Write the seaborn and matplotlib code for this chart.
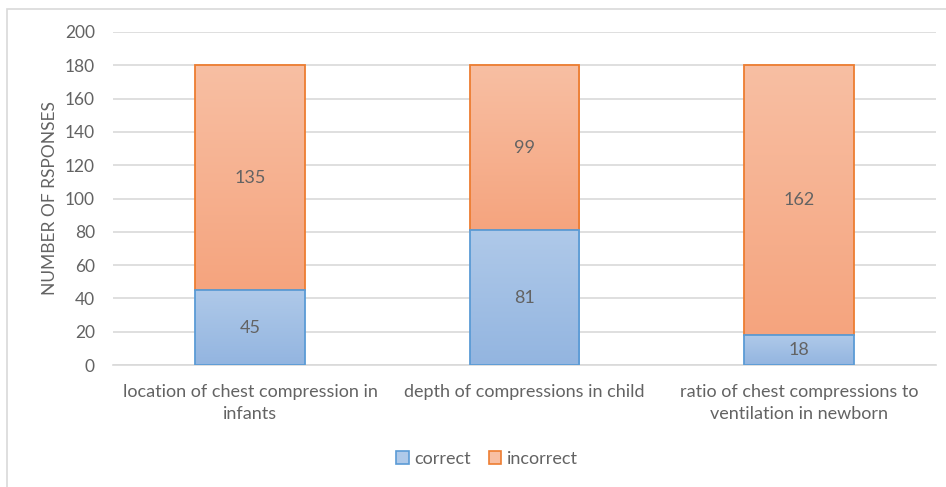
import numpy as np
import pandas as pd
import matplotlib
matplotlib.use("Agg")
import matplotlib.pyplot as plt
import seaborn as sns
from matplotlib.patches import Rectangle
from matplotlib.colors import LinearSegmentedColormap

categories = [
    "location of chest compression in\ninfants",
    "depth of compressions in child",
    "ratio of chest compressions to\nventilation in newborn",
]
correct = [45, 81, 18]
incorrect = [135, 99, 162]
series_names = ["correct", "incorrect"]
y_ticks = [0, 20, 40, 60, 80, 100, 120, 140, 160, 180, 200]

text_grey = "#636363"
grid_grey = "#d9d9d9"
blue_edge = "#5b9bd5"
orange_edge = "#ed7d31"
blue_grad = ("#afc9e9", "#93b5e0")
orange_grad = ("#f8bfa3", "#f5a47e")

sns.set_theme(style="white")
plt.rcParams["font.family"] = ["Lato", "DejaVu Sans"]

df = pd.DataFrame({
    "category": categories,
    "correct": correct,
    "incorrect": incorrect,
})
df["total"] = df["correct"] + df["incorrect"]

fig = plt.figure(figsize=(9.46, 4.87), dpi=100)
ax = fig.add_axes([113 / 946, 1 - 365 / 487, (936 - 113) / 946, (365 - 32) / 487])

# outer chart border (top and left edges visible)
fig.add_artist(Rectangle((7 / 946, -0.1), 1.2, 1 - 9 / 487 + 0.1,
                         transform=fig.transFigure, fill=False,
                         edgecolor="#d9d9d9", linewidth=1.2))

sns.barplot(data=df, x="category", y="total", color=orange_grad[1],
            width=0.40, ax=ax, zorder=2)
n = len(categories)
orange_patches = list(ax.patches[:n])
sns.barplot(data=df, x="category", y="correct", color=blue_grad[1],
            width=0.40, ax=ax, zorder=3)
blue_patches = list(ax.patches[n:2 * n])

# stack the incorrect segment above the correct one
for p, c, inc in zip(orange_patches, correct, incorrect):
    p.set_y(c)
    p.set_height(inc)


def gradient_fill(patch, colors, edge, z):
    x0, y0 = patch.get_x(), patch.get_y()
    w, h = patch.get_width(), patch.get_height()
    cmap = LinearSegmentedColormap.from_list("g", [colors[1], colors[0]])
    grad = np.linspace(0, 1, 256).reshape(-1, 1)
    im = ax.imshow(grad, extent=[x0, x0 + w, y0, y0 + h], origin="lower",
                   cmap=cmap, aspect="auto", zorder=z, interpolation="bicubic")
    im.set_clip_path(patch)
    patch.set_facecolor("none")
    patch.set_edgecolor(edge)
    patch.set_linewidth(1.3)
    patch.set_zorder(z + 0.5)


for p in orange_patches:
    gradient_fill(p, orange_grad, orange_edge, 2)
for p in blue_patches:
    gradient_fill(p, blue_grad, blue_edge, 3)

# value labels in the middle of each segment
for i, (c, inc) in enumerate(zip(correct, incorrect)):
    ax.text(i, c / 2, str(c), ha="center", va="center", color=text_grey,
            fontsize=13, zorder=5)
    ax.text(i, c + inc / 2, str(inc), ha="center", va="center", color=text_grey,
            fontsize=13, zorder=5)

ax.set_xlim(-0.5, n - 0.5)
ax.set_ylim(0, 200)
ax.set_yticks(y_ticks)
ax.set_yticklabels([str(t) for t in y_ticks])
ax.yaxis.grid(True, color=grid_grey, linewidth=1.2, zorder=0)
ax.set_axisbelow(True)
for s in ["top", "right", "left"]:
    ax.spines[s].set_visible(False)
ax.spines["bottom"].set_color(grid_grey)
ax.spines["bottom"].set_linewidth(1.2)
ax.tick_params(axis="y", length=0, pad=13, labelsize=12.5, labelcolor=text_grey)
ax.tick_params(axis="x", length=0, pad=14, labelsize=13, labelcolor=text_grey)
for lbl in ax.get_xticklabels():
    lbl.set_multialignment("center")
    lbl.set_linespacing(1.45)
ax.set_xlabel("")
ax.set_ylabel("NUMBER OF RSPONSES", color=text_grey, fontsize=12.5, labelpad=5)

handles = [
    Rectangle((0, 0), 1, 1, facecolor=blue_grad[0], edgecolor=blue_edge, linewidth=1.2),
    Rectangle((0, 0), 1, 1, facecolor=orange_grad[0], edgecolor=orange_edge, linewidth=1.2),
]
fig.legend(handles, series_names, loc="center", bbox_to_anchor=(487 / 946, 1 - 459 / 487),
           ncol=2, frameon=False, fontsize=13, labelcolor=text_grey,
           handlelength=0.7, handleheight=0.7, handletextpad=0.3, columnspacing=1.0)

fig.savefig("out.png", dpi=100, facecolor="white")
